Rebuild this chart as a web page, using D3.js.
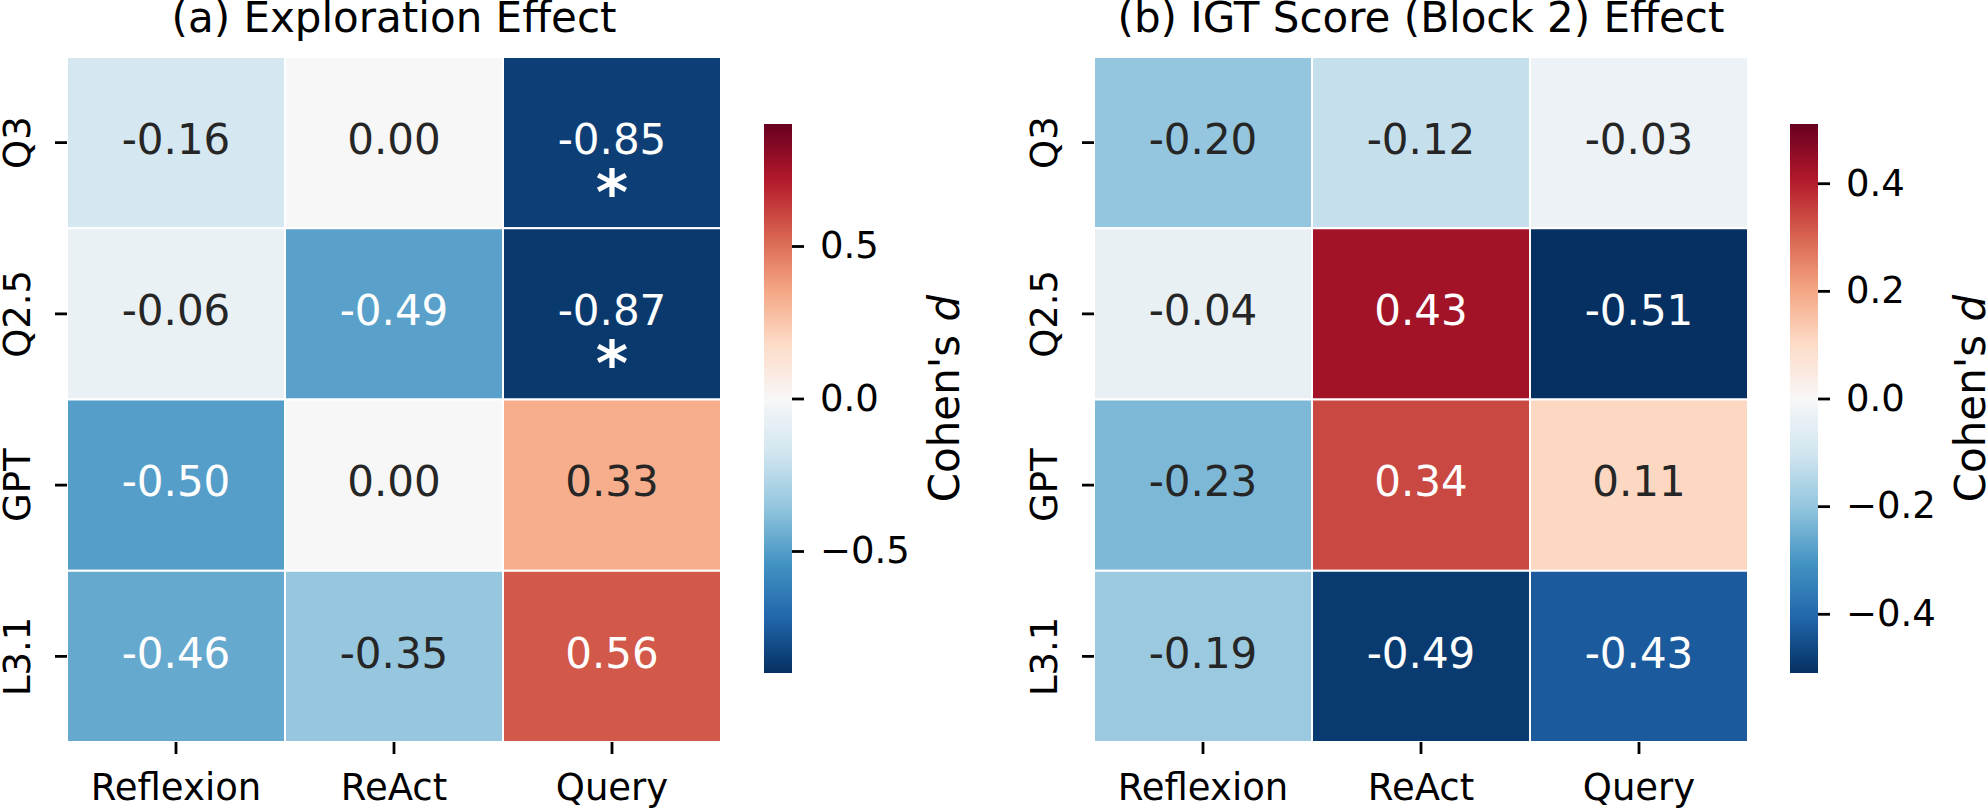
<!DOCTYPE html>
<html>
<head>
<meta charset="utf-8">
<script src="https://cdn.jsdelivr.net/npm/d3@7"></script>
<style>
  body { margin: 0; background: #fff; }
  svg { display: block; font-family: "DejaVu Sans", sans-serif; }
  .tick line { stroke: #000; stroke-width: 2.8; }
  .tick text { fill: #000; font-size: 37px; font-family: "DejaVu Sans", sans-serif; }
  .chart-title { font-size: 42px; fill: #000; }
  .cbar-label { font-size: 42px; fill: #000; }
  .cell-text { font-size: 42px; }
  .star { font-size: 62px; font-weight: bold; }
</style>
</head>
<body>
<svg id="chart"></svg>
<script>
// data
const rowLabels = ['Q3', 'Q2.5', 'GPT', 'L3.1'];
const colLabels = ['Reflexion', 'ReAct', 'Query'];

const explorationValues = [
  [-0.16, 0.00, -0.85],
  [-0.06, -0.49, -0.87],
  [-0.50, 0.00, 0.33],
  [-0.46, -0.35, 0.56]
];
// cells marked with a star (row, col)
const explorationStars = [[0, 2], [1, 2]];
const explorationTicks = [-0.5, 0, 0.5];
const explorationLimit = 0.9;

const igtValues = [
  [-0.20, -0.12, -0.03],
  [-0.04, 0.43, -0.51],
  [-0.23, 0.34, 0.11],
  [-0.19, -0.49, -0.43]
];
const igtStars = [];
const igtTicks = [-0.4, -0.2, 0, 0.2, 0.4];
const igtLimit = 0.51;

// RdBu_r stops
const rdbuStops = ['#053061', '#2166ac', '#4393c3', '#92c5de', '#d1e5f0', '#f7f7f7',
  '#fddbc7', '#f4a582', '#d6604d', '#b2182b', '#67001f'];

class Heatmap {

  constructor(_config, _data) {
    this.config = {
      parent: _config.parent,
      id: _config.id,
      left: _config.left,
      top: _config.top || 57,
      width: _config.width || 654,
      height: _config.height || 685,
      title: _config.title,
      limit: _config.limit,
      ticks: _config.ticks,
      cbarGap: _config.cbarGap || 43,
      cbarTop: _config.cbarTop || 124,
      cbarHeight: _config.cbarHeight || 549,
      cbarWidth: _config.cbarWidth || 28
    };
    this.data = _data;
    this.initVis();
  }

  initVis() {
    let vis = this;
    let c = vis.config;

    vis.xScale = d3.scaleBand().domain(colLabels).range([0, c.width]);
    vis.yScale = d3.scaleBand().domain(rowLabels).range([0, c.height]);

    vis.tScale = d3.scaleLinear().domain([-c.limit, c.limit]).range([0, 1]).clamp(true);
    vis.colorScale = d3.scaleLinear()
        .domain(d3.range(rdbuStops.length).map(i => i / (rdbuStops.length - 1)))
        .range(rdbuStops)
        .interpolate(d3.interpolateRgb);

    vis.chart = c.parent.append('g')
        .attr('transform', `translate(${c.left},${c.top})`);

    vis.chart.append('text')
        .attr('class', 'chart-title')
        .attr('x', c.width / 2)
        .attr('y', -25)
        .attr('text-anchor', 'middle')
        .text(c.title);

    vis.updateVis();
  }

  updateVis() {
    let vis = this;
    let c = vis.config;

    let cells = [];
    vis.data.values.forEach((row, i) => {
      row.forEach((v, j) => {
        cells.push({row: rowLabels[i], col: colLabels[j], value: v,
          star: vis.data.stars.some(s => s[0] === i && s[1] === j)});
      });
    });

    vis.fill = d => vis.colorScale(vis.tScale(d.value));

    // seaborn style text colour from luminance
    vis.textColor = d => {
      let rgb = d3.rgb(vis.fill(d));
      let lin = [rgb.r, rgb.g, rgb.b].map(x => {
        x = x / 255;
        return x <= 0.03928 ? x / 12.92 : Math.pow((x + 0.055) / 1.055, 2.4);
      });
      let lum = 0.2126 * lin[0] + 0.7152 * lin[1] + 0.0722 * lin[2];
      return lum > 0.408 ? '#262626' : '#ffffff';
    };

    let bw = vis.xScale.bandwidth();
    let bh = vis.yScale.bandwidth();

    vis.chart.selectAll('.cell')
        .data(cells)
      .join('rect')
        .attr('class', 'cell')
        .attr('x', d => vis.xScale(d.col))
        .attr('y', d => vis.yScale(d.row))
        .attr('width', bw)
        .attr('height', bh)
        .attr('fill', vis.fill)
        .attr('stroke', '#fff')
        .attr('stroke-width', 2);

    vis.chart.selectAll('.cell-text')
        .data(cells)
      .join('text')
        .attr('class', 'cell-text')
        .attr('x', d => vis.xScale(d.col) + bw / 2)
        .attr('y', d => vis.yScale(d.row) + bh / 2)
        .attr('dy', '0.27em')
        .attr('text-anchor', 'middle')
        .attr('fill', vis.textColor)
        .text(d => d.value.toFixed(2));

    vis.chart.selectAll('.star')
        .data(cells.filter(d => d.star))
      .join('text')
        .attr('class', 'star')
        .attr('x', d => vis.xScale(d.col) + bw / 2)
        .attr('y', d => vis.yScale(d.row) + bh / 2 + 71)
        .attr('text-anchor', 'middle')
        .attr('fill', vis.textColor)
        .text('*');

    // axes
    let xAxisG = vis.chart.append('g')
        .attr('transform', `translate(0,${c.height})`)
        .call(d3.axisBottom(vis.xScale).tickSize(12))
        .call(g => g.select('.domain').remove());
    xAxisG.selectAll('.tick text')
        .attr('y', 58)
        .attr('dy', 0);

    let yAxisG = vis.chart.append('g')
        .call(d3.axisLeft(vis.yScale).tickSize(12))
        .call(g => g.select('.domain').remove());
    yAxisG.selectAll('.tick text')
        .attr('transform', 'rotate(-90)')
        .attr('x', 0)
        .attr('y', -37)
        .attr('dy', 0)
        .attr('text-anchor', 'middle');

    vis.renderColorbar();
  }

  renderColorbar() {
    let vis = this;
    let c = vis.config;

    let cbX = c.width + c.cbarGap;
    let cbY = c.cbarTop - c.top;

    let grad = c.parent.append('defs').append('linearGradient')
        .attr('id', `grad-${c.id}`)
        .attr('x1', 0).attr('y1', 1).attr('x2', 0).attr('y2', 0);
    grad.selectAll('stop')
        .data(rdbuStops)
      .join('stop')
        .attr('offset', (d, i) => i / (rdbuStops.length - 1))
        .attr('stop-color', d => d);

    let cb = vis.chart.append('g')
        .attr('transform', `translate(${cbX},${cbY})`);

    cb.append('rect')
        .attr('width', c.cbarWidth)
        .attr('height', c.cbarHeight)
        .attr('fill', `url(#grad-${c.id})`);

    let cbScale = d3.scaleLinear()
        .domain([-c.limit, c.limit])
        .range([c.cbarHeight, 0]);

    cb.append('g')
        .attr('transform', `translate(${c.cbarWidth},0)`)
        .call(d3.axisRight(cbScale).tickValues(c.ticks).tickSize(12).tickPadding(16).tickFormat(d3.format('.1f')))
        .call(g => g.select('.domain').remove());

    let label = cb.append('text')
        .attr('class', 'cbar-label')
        .attr('transform', `translate(${c.cbarWidth + 167},${c.cbarHeight / 2}) rotate(-90)`)
        .attr('text-anchor', 'middle');
    label.append('tspan').text("Cohen's ");
    label.append('tspan').attr('font-style', 'italic').text('d');
  }
}

const svg = d3.select('#chart')
    .attr('width', 1987)
    .attr('height', 809);

new Heatmap({
  parent: svg,
  id: 'a',
  left: 67,
  title: '(a) Exploration Effect',
  limit: explorationLimit,
  ticks: explorationTicks,
  cbarGap: 43
}, {values: explorationValues, stars: explorationStars});

new Heatmap({
  parent: svg,
  id: 'b',
  left: 1094,
  title: '(b) IGT Score (Block 2) Effect',
  limit: igtLimit,
  ticks: igtTicks,
  cbarGap: 42
}, {values: igtValues, stars: igtStars});
</script>
</body>
</html>
